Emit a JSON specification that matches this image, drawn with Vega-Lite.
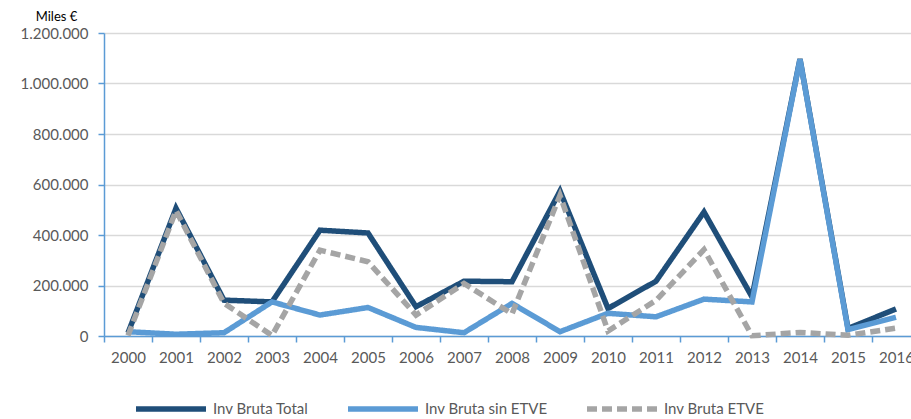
{
  "$schema": "https://vega.github.io/schema/vega-lite/v6.json",
  "width": 816,
  "height": 303,
  "autosize": {"type": "none"},
  "padding": {"left": 104, "top": 33, "right": 0, "bottom": 83},
  "background": "white",
  "config": {
    "locale": {"number": {"decimal": ",", "thousands": ".", "grouping": [3], "currency": ["", " €"]}},
    "view": {"stroke": null},
    "font": "Lato"
  },
  "data": {"values": [
    {"year": 2000, "series": "Inv Bruta Total", "value": 12000},
    {"year": 2001, "series": "Inv Bruta Total", "value": 506000},
    {"year": 2002, "series": "Inv Bruta Total", "value": 142000},
    {"year": 2003, "series": "Inv Bruta Total", "value": 135000},
    {"year": 2004, "series": "Inv Bruta Total", "value": 419000},
    {"year": 2005, "series": "Inv Bruta Total", "value": 408000},
    {"year": 2006, "series": "Inv Bruta Total", "value": 116000},
    {"year": 2007, "series": "Inv Bruta Total", "value": 217000},
    {"year": 2008, "series": "Inv Bruta Total", "value": 215000},
    {"year": 2009, "series": "Inv Bruta Total", "value": 574000},
    {"year": 2010, "series": "Inv Bruta Total", "value": 109000},
    {"year": 2011, "series": "Inv Bruta Total", "value": 217000},
    {"year": 2012, "series": "Inv Bruta Total", "value": 491000},
    {"year": 2013, "series": "Inv Bruta Total", "value": 155000},
    {"year": 2014, "series": "Inv Bruta Total", "value": 1097000},
    {"year": 2015, "series": "Inv Bruta Total", "value": 30000},
    {"year": 2016, "series": "Inv Bruta Total", "value": 107000},
    {"year": 2000, "series": "Inv Bruta sin ETVE", "value": 17000},
    {"year": 2001, "series": "Inv Bruta sin ETVE", "value": 7000},
    {"year": 2002, "series": "Inv Bruta sin ETVE", "value": 13000},
    {"year": 2003, "series": "Inv Bruta sin ETVE", "value": 135000},
    {"year": 2004, "series": "Inv Bruta sin ETVE", "value": 83000},
    {"year": 2005, "series": "Inv Bruta sin ETVE", "value": 113000},
    {"year": 2006, "series": "Inv Bruta sin ETVE", "value": 34000},
    {"year": 2007, "series": "Inv Bruta sin ETVE", "value": 13000},
    {"year": 2008, "series": "Inv Bruta sin ETVE", "value": 129000},
    {"year": 2009, "series": "Inv Bruta sin ETVE", "value": 17000},
    {"year": 2010, "series": "Inv Bruta sin ETVE", "value": 90000},
    {"year": 2011, "series": "Inv Bruta sin ETVE", "value": 76000},
    {"year": 2012, "series": "Inv Bruta sin ETVE", "value": 146000},
    {"year": 2013, "series": "Inv Bruta sin ETVE", "value": 135000},
    {"year": 2014, "series": "Inv Bruta sin ETVE", "value": 1095000},
    {"year": 2015, "series": "Inv Bruta sin ETVE", "value": 25000},
    {"year": 2016, "series": "Inv Bruta sin ETVE", "value": 74000},
    {"year": 2000, "series": "Inv Bruta ETVE", "value": 2000},
    {"year": 2001, "series": "Inv Bruta ETVE", "value": 497000},
    {"year": 2002, "series": "Inv Bruta ETVE", "value": 130000},
    {"year": 2003, "series": "Inv Bruta ETVE", "value": 2000},
    {"year": 2004, "series": "Inv Bruta ETVE", "value": 340000},
    {"year": 2005, "series": "Inv Bruta ETVE", "value": 294000},
    {"year": 2006, "series": "Inv Bruta ETVE", "value": 83000},
    {"year": 2007, "series": "Inv Bruta ETVE", "value": 208000},
    {"year": 2008, "series": "Inv Bruta ETVE", "value": 88000},
    {"year": 2009, "series": "Inv Bruta ETVE", "value": 557000},
    {"year": 2010, "series": "Inv Bruta ETVE", "value": 20000},
    {"year": 2011, "series": "Inv Bruta ETVE", "value": 141000},
    {"year": 2012, "series": "Inv Bruta ETVE", "value": 342000},
    {"year": 2013, "series": "Inv Bruta ETVE", "value": 1000},
    {"year": 2014, "series": "Inv Bruta ETVE", "value": 14000},
    {"year": 2015, "series": "Inv Bruta ETVE", "value": 3000},
    {"year": 2016, "series": "Inv Bruta ETVE", "value": 31000}
  ]},
  "mark": {"type": "line", "strokeCap": "butt"},
  "encoding": {
    "x": {
      "field": "year", "type": "quantitative",
      "scale": {"domain": [1999.5, 2016.5], "nice": false, "zero": false},
      "axis": {
        "title": null,
        "values": [1999.5, 2000.5, 2001.5, 2002.5, 2003.5, 2004.5, 2005.5, 2006.5, 2007.5, 2008.5, 2009.5, 2010.5, 2011.5, 2012.5, 2013.5, 2014.5, 2015.5, 2016.5],
        "labelExpr": "datum.value < 2016 ? format(datum.value + 0.5, 'd') : ''",
        "labelOffset": 24,
        "labelAlign": "center",
        "labelFontSize": 15,
        "labelColor": "#595959",
        "labelPadding": 8,
        "labelFlush": false,
        "labelOverlap": false,
        "grid": false,
        "domainColor": "#5B9BD5",
        "domainWidth": 1.5,
        "tickColor": "#5B9BD5",
        "tickWidth": 1.5,
        "tickSize": 6
      }
    },
    "y": {
      "field": "value", "type": "quantitative",
      "scale": {"domain": [0, 1200000], "nice": false},
      "axis": {
        "values": [0, 200000, 400000, 600000, 800000, 1000000, 1200000],
        "format": ",d",
        "title": "Miles €",
        "titleAngle": 0,
        "titleX": -48,
        "titleY": -17,
        "titleAlign": "center",
        "titleBaseline": "middle",
        "titleFontSize": 13,
        "titleFontWeight": "normal",
        "titleColor": "#000000",
        "labelFontSize": 15,
        "labelColor": "#595959",
        "labelPadding": 10,
        "gridColor": "#D9D9D9",
        "gridWidth": 1.5,
        "domainColor": "#5B9BD5",
        "domainWidth": 1.5,
        "tickColor": "#5B9BD5",
        "tickWidth": 1.5,
        "tickSize": 6
      }
    },
    "color": {
      "field": "series", "type": "nominal",
      "scale": {"domain": ["Inv Bruta Total", "Inv Bruta sin ETVE", "Inv Bruta ETVE"], "range": ["#1F4E79", "#5B9BD5", "#A5A5A5"]},
      "legend": {
        "title": null,
        "orient": "none",
        "direction": "horizontal",
        "legendX": 29,
        "legendY": 338,
        "symbolType": "stroke",
        "symbolSize": 4900,
        "symbolStrokeWidth": 5,
        "labelFontSize": 15,
        "labelColor": "#595959",
        "labelOffset": 4,
        "columnPadding": 28
      }
    },
    "strokeDash": {
      "field": "series", "type": "nominal",
      "scale": {"domain": ["Inv Bruta Total", "Inv Bruta sin ETVE", "Inv Bruta ETVE"], "range": [[1, 0], [1, 0], [10, 5]]},
      "legend": {
        "title": null,
        "orient": "none",
        "direction": "horizontal",
        "legendX": 29,
        "legendY": 338,
        "symbolType": "stroke",
        "symbolSize": 4900,
        "symbolStrokeWidth": 5,
        "labelFontSize": 15,
        "labelColor": "#595959",
        "labelOffset": 4,
        "columnPadding": 28
      }
    },
    "strokeWidth": {
      "field": "series", "type": "nominal",
      "scale": {"domain": ["Inv Bruta Total", "Inv Bruta sin ETVE", "Inv Bruta ETVE"], "range": [5.5, 5.5, 3.5]},
      "legend": null
    }
  }
}
